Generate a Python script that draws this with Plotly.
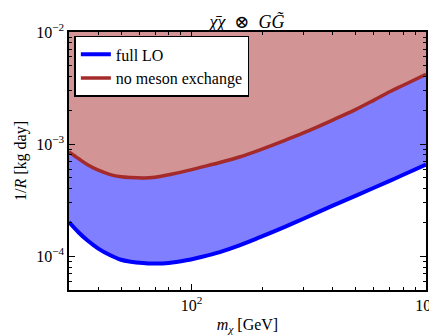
import math
import plotly.graph_objects as go

# Data
mass = [30, 33, 36, 40, 45, 50, 55, 62, 68, 80, 95, 110, 132, 160, 196,
        250, 300, 400, 500, 600, 700, 800, 1000]
full_lo = [2.02e-4, 1.63e-4, 1.38e-4, 1.17e-4, 1.02e-4, 9.3e-5, 8.95e-5, 8.7e-5,
           8.6e-5, 8.7e-5, 9.2e-5, 9.85e-5, 1.09e-4, 1.25e-4, 1.48e-4,
           1.83e-4, 2.16e-4, 2.83e-4, 3.46e-4, 4.08e-4, 4.70e-4, 5.33e-4, 6.56e-4]
no_meson = [8.53e-4, 7.4e-4, 6.55e-4, 5.85e-4, 5.35e-4, 5.12e-4, 5.04e-4, 5.0e-4,
            5.03e-4, 5.33e-4, 5.77e-4, 6.23e-4, 6.86e-4, 7.68e-4, 8.9e-4,
            1.081e-3, 1.26e-3, 1.64e-3, 2.03e-3, 2.47e-3, 2.93e-3, 3.35e-3, 4.2e-3]

X_RANGE = [30, 1000]
Y_RANGE = [5e-5, 1e-2]

x_tickvals = [100, 1000]
x_ticktext = ["10<sup>2</sup>", "10<sup>3</sup>"]
y_tickvals = [1e-4, 1e-3, 1e-2]
y_ticktext = ["10<sup>−4</sup>", "10<sup>−3</sup>", "10<sup>−2</sup>"]
x_minor = [30, 40, 50, 60, 70, 80, 90, 200, 300, 400, 500, 600, 700, 800, 900]
y_minor = [5e-5, 6e-5, 7e-5, 8e-5, 9e-5, 2e-4, 3e-4, 4e-4, 5e-4, 6e-4, 7e-4,
           8e-4, 9e-4, 2e-3, 3e-3, 4e-3, 5e-3, 6e-3, 7e-3, 8e-3, 9e-3]

BLUE = "#0000ff"
BROWN = "#a52a2a"
BLUE_FILL = "rgba(0,0,255,0.5)"
BROWN_FILL = "rgba(165,42,42,0.5)"
FONT = "Liberation Serif, DejaVu Serif, serif"

fig = go.Figure()
# fill between blue and red curves
fig.add_trace(go.Scatter(x=mass, y=full_lo, mode="lines", line=dict(width=0, shape="spline"),
                         showlegend=False, hoverinfo="skip"))
fig.add_trace(go.Scatter(x=mass, y=no_meson, mode="lines", line=dict(width=0, shape="spline"),
                         fill="tonexty", fillcolor=BLUE_FILL,
                         showlegend=False, hoverinfo="skip"))
# fill above red curve to top of axis
fig.add_trace(go.Scatter(x=mass, y=[Y_RANGE[1]] * len(mass), mode="lines",
                         line=dict(width=0), fill="tonexty", fillcolor=BROWN_FILL,
                         showlegend=False, hoverinfo="skip"))
# lines
fig.add_trace(go.Scatter(x=mass, y=full_lo, mode="lines", name="full LO",
                         line=dict(color=BLUE, width=4, shape="spline")))
fig.add_trace(go.Scatter(x=mass, y=no_meson, mode="lines", name="no meson exchange",
                         line=dict(color=BROWN, width=3.5, shape="spline")))

axis_common = dict(
    type="log", showgrid=False, zeroline=False, showline=True,
    linecolor="black", linewidth=1.5, mirror="allticks",
    ticks="inside", ticklen=6, tickwidth=1, tickcolor="black",
    tickfont=dict(family=FONT, size=16, color="black"),
    ticklabeloverflow="allow", automargin=False,
)

fig.update_xaxes(
    **axis_common,
    range=[math.log10(X_RANGE[0]), math.log10(X_RANGE[1])],
    tickvals=x_tickvals, ticktext=x_ticktext,
    minor=dict(tickvals=x_minor, ticks="inside", ticklen=3, tickcolor="black"),
    title=dict(text="<i>m</i><sub><i>χ</i></sub> [GeV]",
               font=dict(family=FONT, size=16, color="black"), standoff=6),
)
fig.update_yaxes(
    **axis_common,
    range=[math.log10(Y_RANGE[0]), math.log10(Y_RANGE[1])],
    tickvals=y_tickvals, ticktext=y_ticktext,
    minor=dict(tickvals=y_minor, ticks="inside", ticklen=3, tickcolor="black"),
    title=dict(text="1/<i>R</i> [kg day]",
               font=dict(family=FONT, size=16, color="black"), standoff=6),
)

# page body adds an 8px offset, so the figure is sized to fit the window
fig.update_layout(
    width=429, height=327,
    margin=dict(l=61, r=11, t=24, b=45),
    paper_bgcolor="white", plot_bgcolor="white",
    title=dict(text="<i>χ̄χ</i>  ⊗  <i>GG̃</i>", x=0.557, xanchor="center",
               y=0.958, yanchor="middle",
               font=dict(family=FONT, size=18, color="black")),
    legend=dict(x=0.015, y=0.985, xanchor="left", yanchor="top",
                bgcolor="white", bordercolor="black", borderwidth=1.5,
                font=dict(family=FONT, size=16, color="black"),
                traceorder="normal", itemwidth=30),
    showlegend=True,
)

fig.write_html("out.html")
